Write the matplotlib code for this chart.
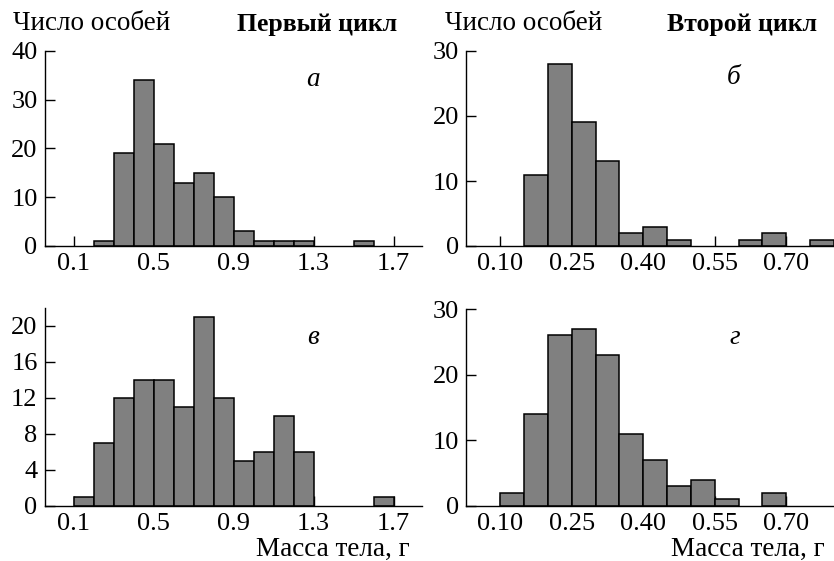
import matplotlib
matplotlib.use("Agg")
import matplotlib.pyplot as plt
import numpy as np

plt.rc("font", family=["Liberation Serif", "DejaVu Serif"], size=19.5)
plt.rc("xtick", direction="in", labelsize=19)
plt.rc("ytick", direction="in", labelsize=19)

# --- data: left edges of the bins and counts per bin ---
edges_a = [0.2, 0.3, 0.4, 0.5, 0.6, 0.7, 0.8, 0.9, 1.0, 1.1, 1.2, 1.3, 1.4, 1.5]
counts_a = [1, 19, 34, 21, 13, 15, 10, 3, 1, 1, 1, 0, 0, 1]

edges_b = [0.15, 0.20, 0.25, 0.30, 0.35, 0.40, 0.45, 0.50, 0.55, 0.60, 0.65, 0.70, 0.75]
counts_b = [11, 28, 19, 13, 2, 3, 1, 0, 0, 1, 2, 0, 1]

edges_c = [0.1, 0.2, 0.3, 0.4, 0.5, 0.6, 0.7, 0.8, 0.9, 1.0, 1.1, 1.2, 1.3, 1.4, 1.5, 1.6]
counts_c = [1, 7, 12, 14, 14, 11, 21, 12, 5, 6, 10, 6, 0, 0, 0, 1]

edges_d = [0.10, 0.15, 0.20, 0.25, 0.30, 0.35, 0.40, 0.45, 0.50, 0.55, 0.60, 0.65]
counts_d = [2, 14, 26, 27, 23, 11, 7, 3, 4, 1, 0, 2]

ticks_first = [0.1, 0.5, 0.9, 1.3, 1.7]
ticklabels_first = ["0.1", "0.5", "0.9", "1.3", "1.7"]
ticks_second = [0.10, 0.25, 0.40, 0.55, 0.70]
ticklabels_second = ["0.10", "0.25", "0.40", "0.55", "0.70"]

W, H = 834, 561


def px(x, y):
    return x / W, 1 - y / H


def draw_panel(ax, edges, counts, width, ticks, ticklabels, xlim, ylim, yticks):
    edges = np.array(edges)
    counts = np.array(counts)
    keep = counts > 0
    ax.bar(edges[keep], counts[keep], width=width, align="edge",
           color="#808080", edgecolor="black", linewidth=1.1, zorder=2)
    ax.set_xlim(*xlim)
    ax.set_ylim(*ylim)
    ax.set_xticks(ticks)
    ax.set_xticklabels(ticklabels)
    ax.set_yticks(yticks)
    ax.spines["top"].set_visible(False)
    ax.spines["right"].set_visible(False)
    for s in ("left", "bottom"):
        ax.spines[s].set_linewidth(1.0)
    ax.tick_params(axis="both", length=7, width=1.0)
    ax.tick_params(axis="x", pad=5)
    ax.tick_params(axis="y", pad=5)
    ax.set_facecolor("none")


fig = plt.figure(figsize=(W / 100, H / 100), dpi=100)

ax_a = fig.add_axes([44.5 / W, 1 - 246 / H, 378 / W, 195 / H])
ax_b = fig.add_axes([466 / W, 1 - 246 / H, 368 / W, 195 / H])
ax_c = fig.add_axes([44.5 / W, 1 - 506 / H, 378 / W, 198 / H])
ax_d = fig.add_axes([466 / W, 1 - 506 / H, 368 / W, 197 / H])

draw_panel(ax_a, edges_a, counts_a, 0.1, ticks_first, ticklabels_first,
           (-0.046, 1.845), (0, 40), [0, 10, 20, 30, 40])
draw_panel(ax_b, edges_b, counts_b, 0.05, ticks_second, ticklabels_second,
           (0.028, 0.80), (0, 30), [0, 10, 20, 30])
draw_panel(ax_c, edges_c, counts_c, 0.1, ticks_first, ticklabels_first,
           (-0.046, 1.845), (0, 22), [0, 4, 8, 12, 16, 20])
draw_panel(ax_d, edges_d, counts_d, 0.05, ticks_second, ticklabels_second,
           (0.028, 0.80), (0, 30), [0, 10, 20, 30])

# headers
fig.text(*px(13, 24), "Число особей", ha="left", va="center")
fig.text(*px(397, 24), "Первый цикл", ha="right", va="center",
         fontweight="bold", fontsize=18.5)
fig.text(*px(445, 24), "Число особей", ha="left", va="center")
fig.text(*px(817, 24), "Второй цикл", ha="right", va="center",
         fontweight="bold", fontsize=18.5)

# panel letters
fig.text(*px(313, 80), "а", ha="center", va="center", style="italic")
fig.text(*px(734, 78), "б", ha="center", va="center", style="italic")
fig.text(*px(313, 338), "в", ha="center", va="center", style="italic")
fig.text(*px(735, 338), "г", ha="center", va="center", style="italic")

# x axis captions
fig.text(*px(410, 549), "Масса тела, г", ha="right", va="center")
fig.text(*px(825, 549), "Масса тела, г", ha="right", va="center")

fig.savefig("out.png", dpi=100)
